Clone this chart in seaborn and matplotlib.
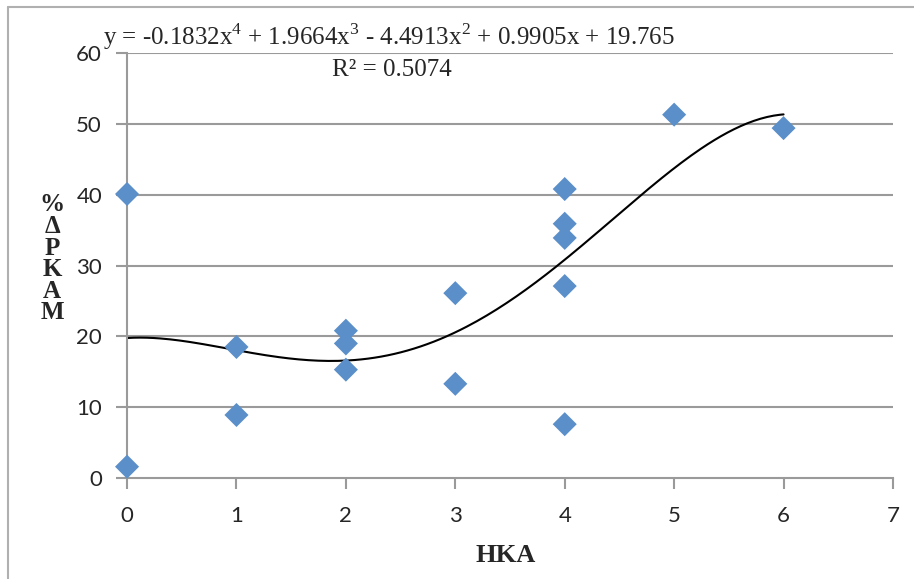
import numpy as np
import pandas as pd
import seaborn as sns
import matplotlib.pyplot as plt
from matplotlib.lines import Line2D

# data
hka = [0, 0, 1, 1, 2, 2, 2, 3, 3, 4, 4, 4, 4, 4, 5, 6]
pkam = [1.6, 40.1, 18.5, 8.9, 20.8, 19.0, 15.3, 26.1, 13.3,
        40.8, 35.9, 33.9, 27.1, 7.6, 51.3, 49.4]

# trendline coefficients as printed (x^4 ... x^0)
coeffs = [-0.1832, 1.9664, -4.4913, 0.9905, 19.765]
r2 = 0.5074

sns.set_theme(style="white")
plt.rcParams['font.family'] = ['Lato', 'DejaVu Sans']
plt.rcParams['mathtext.fontset'] = 'custom'
plt.rcParams['mathtext.rm'] = 'Liberation Serif'

df = pd.DataFrame({'HKA': hka, 'PKAM': pkam})
xs = np.linspace(0, 6, 200)
trend = pd.DataFrame({'x': xs, 'y': np.polyval(coeffs, xs)})

fig = plt.figure(figsize=(9.14, 5.79), dpi=100)
ax = fig.add_axes([0.139, 0.1744, 0.838, 0.734])

grid_col = '#9a9a9a'
for v in range(10, 61, 10):
    ax.axhline(v, color=grid_col, lw=1.5, zorder=0)

sns.lineplot(data=trend, x='x', y='y', ax=ax, color='black', lw=1.5, zorder=2)
sns.scatterplot(data=df, x='HKA', y='PKAM', ax=ax, marker='D', s=150,
                color='#5b8fc9', edgecolor='none', zorder=3, clip_on=False)

ax.set_xlim(0, 7)
ax.set_ylim(0, 60)
ax.set_xticks(range(0, 8))
ax.set_yticks(range(0, 61, 10))
ax.tick_params(axis='both', which='both', direction='out', length=8, width=1.5,
               color=grid_col, labelsize=16, left=True, bottom=True)
ax.tick_params(axis='y', pad=10)
ax.tick_params(axis='x', pad=12)
for side in ['top', 'right']:
    ax.spines[side].set_visible(False)
for side in ['left', 'bottom']:
    ax.spines[side].set_color(grid_col)
    ax.spines[side].set_linewidth(1.5)

ax.set_xlabel('')
ax.set_ylabel('')
fig.text(0.553, 0.04, 'HKA', ha='center', va='center', fontsize=19,
         fontweight='bold', family='Liberation Serif')
fig.text(0.057, 0.553, '%\nΔ\nP\nK\nA\nM', ha='center', va='center', fontsize=18,
         fontweight='bold', family='Liberation Serif', linespacing=0.92)

eq = ('y = ' + '{:.4f}x$^4$ + {:.4f}x$^3$ - {:.4f}x$^2$ + {:.4f}x + {:.3f}'.format(
    coeffs[0], coeffs[1], -coeffs[2], coeffs[3], coeffs[4]))
fig.text(0.426, 0.936, eq, ha='center', va='center', fontsize=18,
         family='Liberation Serif')
fig.text(0.429, 0.879, 'R² = {:.4f}'.format(r2), ha='center', va='center',
         fontsize=18, family='Liberation Serif')

# outer chart frame (top and left edges visible)
fig.add_artist(Line2D([0.009, 1.0], [0.988, 0.988], color='#b0b0b0', lw=1.5))
fig.add_artist(Line2D([0.009, 0.009], [0.0, 0.988], color='#b0b0b0', lw=1.5))

fig.savefig('out.png', dpi=100)
